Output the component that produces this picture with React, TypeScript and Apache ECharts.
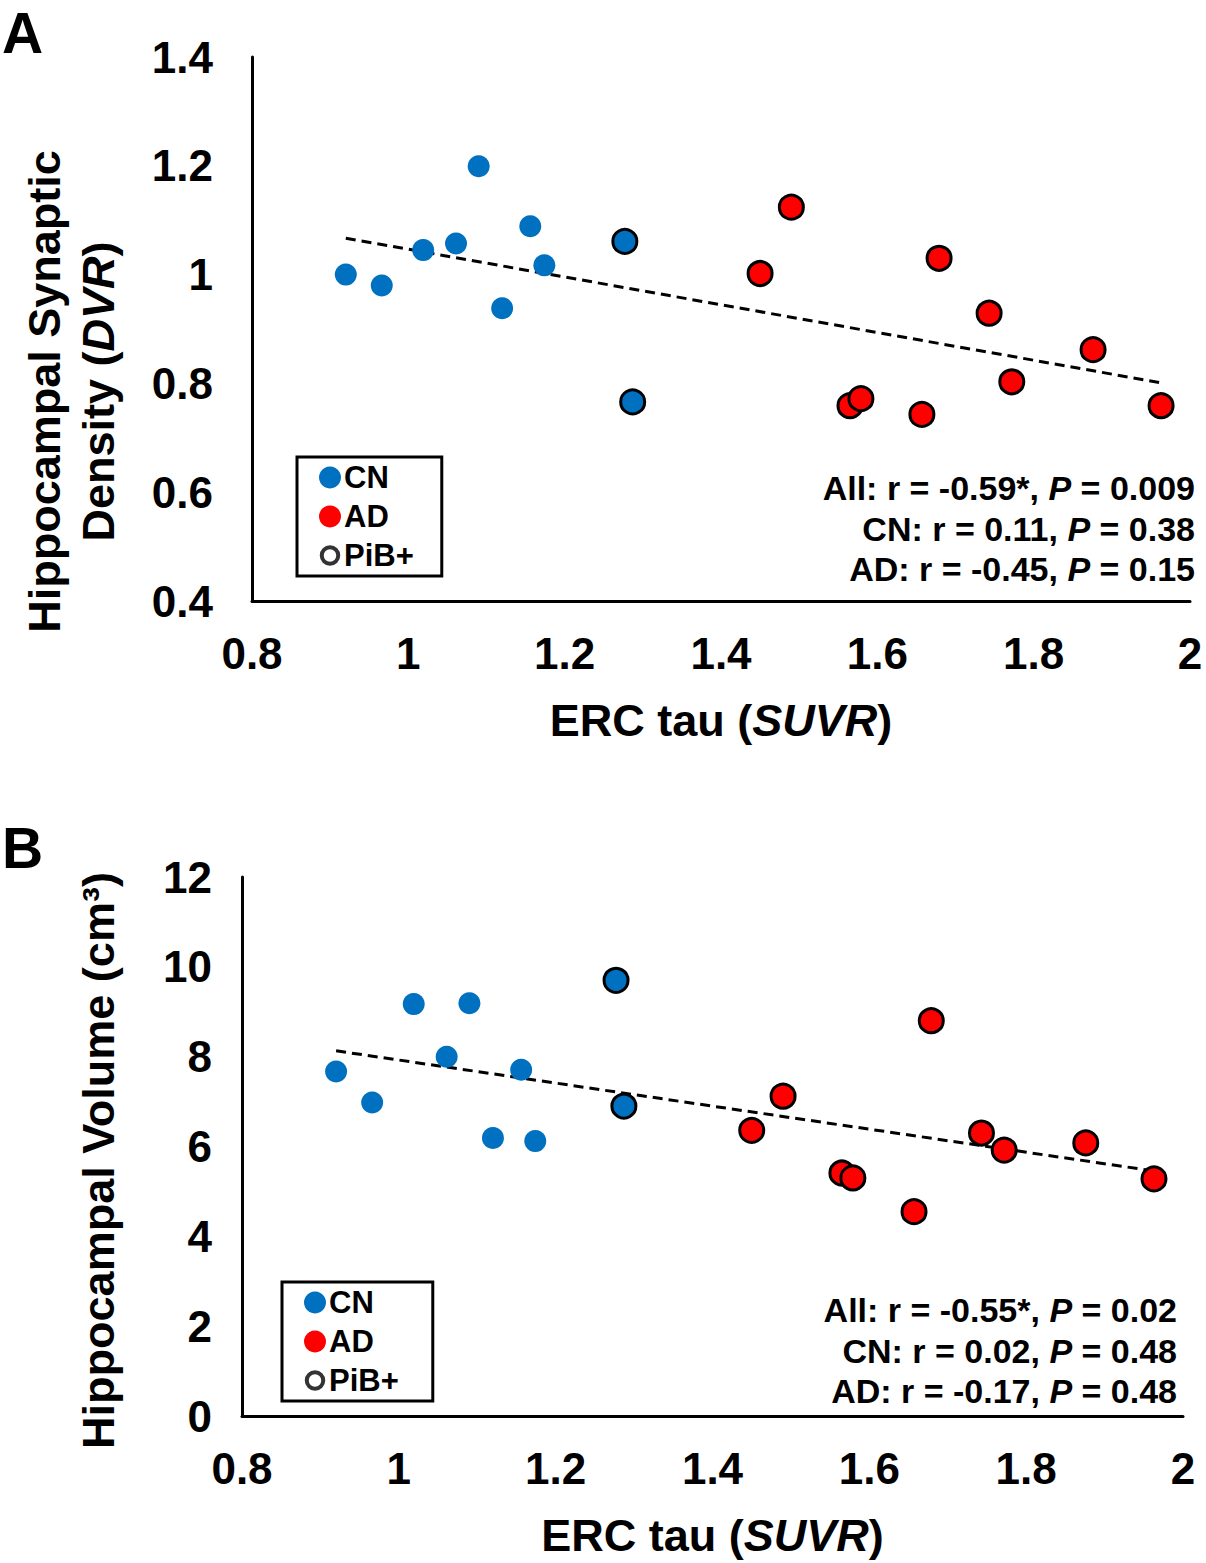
import React, { useEffect, useRef } from "react";
import * as echarts from "echarts";

// ---------- Data ----------
// ERC tau (SUVR) values
const tauCN = [0.92, 0.966, 1.019, 1.061, 1.09, 1.12, 1.156, 1.174];
const tauCNPib = [1.277, 1.287];
const tauAD = [1.45, 1.49, 1.565, 1.579, 1.657, 1.679, 1.743, 1.772, 1.876, 1.963];

// Panel A: hippocampal synaptic density (DVR)
const dvrCN = [1.0, 0.98, 1.045, 1.057, 1.199, 0.938, 1.089, 1.017];
const dvrCNPib = [1.061, 0.766];
const dvrAD = [1.002, 1.124, 0.759, 0.772, 0.743, 1.03, 0.929, 0.803, 0.862, 0.759];
const trendA = [[0.92, 1.067], [1.963, 0.801]];

// Panel B: hippocampal volume (cm3)
const volCN = [7.67, 6.98, 9.17, 8.0, 9.19, 6.19, 7.71, 6.12];
const volCNPib = [9.7, 6.9];
const volAD = [6.36, 7.12, 5.41, 5.3, 4.55, 8.8, 6.3, 5.92, 6.08, 5.28];
const trendB = [[0.92, 8.13], [1.961, 5.46]];

const statsA = [
  "All: r = -0.59*, {i|P} = 0.009",
  "CN: r = 0.11, {i|P} = 0.38",
  "AD: r = -0.45, {i|P} = 0.15",
];
const statsB = [
  "All: r = -0.55*, {i|P} = 0.02",
  "CN: r = 0.02, {i|P} = 0.48",
  "AD: r = -0.17, {i|P} = 0.48",
];
const legendNames = ["CN", "AD", "PiB+"];

const FONT = "'Liberation Sans', Arial, sans-serif";
const BLUE = "#0070C0";
const RED = "#FF0000";
// small hollow ring icon for the PiB+ legend entry (outer moves pad the bounds)
const RING_ICON = "path://M0,0M24,24M12,3A9,9 0 1 1 12,21A9,9 0 1 1 12,3Z";

const zip = (a: number[], b: number[]) => a.map((v, i) => [v, b[i]]);

export default function App() {
  const ref = useRef<HTMLDivElement>(null);
  useEffect(() => {
    if (!ref.current) return;
    const chart = echarts.init(ref.current, undefined, { renderer: "svg" });

    const tickLabel = {
      fontSize: 44,
      fontWeight: "bold",
      color: "#000",
      fontFamily: FONT,
    };
    const nameStyle = (padTop: number) => ({
      fontSize: 45,
      fontWeight: "bold",
      color: "#000",
      fontFamily: FONT,
      lineHeight: 54,
      padding: [0, padTop, 0, 0],
      rich: {
        i: { fontSize: 45, fontWeight: "bold", fontStyle: "italic", color: "#000", fontFamily: FONT, lineHeight: 54 },
        n: { fontSize: 45, fontWeight: "bold", color: "#000", fontFamily: FONT, lineHeight: 54 },
      },
    });
    const axisLine = { show: true, onZero: false, lineStyle: { color: "#000", width: 3 } };
    const fmt1 = (v: number) => String(+v.toFixed(1));

    const xAxisBase = (gridIndex: number, nameGap: number) => ({
      type: "value",
      gridIndex,
      min: 0.8,
      max: 2,
      interval: 0.2,
      axisLine,
      axisTick: { show: false },
      splitLine: { show: false },
      axisLabel: { ...tickLabel, margin: 30, formatter: fmt1 },
      name: "{n|ERC tau (}{i|SUVR}{n|)}",
      nameLocation: "middle",
      nameGap,
      nameTextStyle: nameStyle(0),
    });

    const scatterSeries = (
      name: string,
      idx: number,
      data: number[][],
      color: string,
      bordered: boolean
    ) => ({
      name,
      type: "scatter",
      xAxisIndex: idx,
      yAxisIndex: idx,
      data,
      symbol: "circle",
      symbolSize: bordered ? 24 : 22,
      itemStyle: {
        color,
        borderColor: "#000",
        borderWidth: bordered ? 3 : 0,
        opacity: 1,
      },
      z: 3,
    });

    const trendSeries = (idx: number, data: number[][]) => ({
      name: "trend",
      type: "line",
      xAxisIndex: idx,
      yAxisIndex: idx,
      data,
      symbol: "none",
      lineStyle: { color: "#000", width: 3, type: [10, 6] },
      z: 2,
      silent: true,
    });

    const legendBase = (left: number, top: number, padRight: number) => ({
      left,
      top,
      orient: "vertical",
      data: [
        { name: legendNames[0], icon: "circle", itemStyle: { borderWidth: 0 } },
        { name: legendNames[1], icon: "circle", itemStyle: { borderWidth: 0 } },
        {
          name: legendNames[2],
          icon: RING_ICON,
          itemStyle: { color: "#fff", borderColor: "#000", borderWidth: 4 },
        },
      ],
      itemWidth: 22,
      itemHeight: 22,
      itemGap: 8,
      selectedMode: false,
      backgroundColor: "#fff",
      borderColor: "#000",
      borderWidth: 3,
      padding: [5, padRight, 5, 20],
      textStyle: { fontSize: 31, fontWeight: "bold", color: "#000", fontFamily: FONT, padding: [0, 0, 0, -2] },
    });

    const statTexts = (lines: string[], xRight: number, y0: number) =>
      lines.map((t, i) => ({
        type: "text",
        x: xRight,
        y: y0 + i * 40.5,
        style: {
          text: t,
          align: "right",
          verticalAlign: "middle",
          fontSize: 34,
          fontWeight: "bold",
          fontFamily: FONT,
          fill: "#000",
          rich: {
            i: { fontSize: 34, fontWeight: "bold", fontStyle: "italic", fontFamily: FONT, fill: "#000" },
          },
        },
        z: 10,
      }));

    const option = {
      animation: false,
      backgroundColor: "#fff",
      grid: [
        { left: 252, top: 57, width: 938, height: 544 },
        { left: 242, top: 877, width: 941, height: 543 },
      ],
      xAxis: [xAxisBase(0, 92), xAxisBase(1, 92)],
      yAxis: [
        {
          type: "value",
          gridIndex: 0,
          min: 0.4,
          max: 1.4,
          interval: 0.2,
          axisLine,
          axisTick: { show: false },
          splitLine: { show: false },
          axisLabel: { ...tickLabel, margin: 39, formatter: fmt1 },
          name: "{n|Hippocampal Synaptic}\n{n|Density (}{i|DVR}{n|)}",
          nameLocation: "middle",
          nameGap: 127,
          nameTextStyle: nameStyle(125),
        },
        {
          type: "value",
          gridIndex: 1,
          min: 0,
          max: 12,
          interval: 2,
          axisLine,
          axisTick: { show: false },
          splitLine: { show: false },
          axisLabel: { ...tickLabel, margin: 30, formatter: fmt1 },
          name: "{n|Hippocampal Volume (cm³)}",
          nameLocation: "middle",
          nameGap: 117,
          nameTextStyle: nameStyle(28),
        },
      ],
      legend: [legendBase(297, 457, 28), legendBase(282, 1282, 34)],
      series: [
        trendSeries(0, trendA),
        scatterSeries("CN", 0, zip(tauCN, dvrCN), BLUE, false),
        scatterSeries("CN PiB+", 0, zip(tauCNPib, dvrCNPib), BLUE, true),
        scatterSeries("AD", 0, zip(tauAD, dvrAD), RED, true),
        trendSeries(1, trendB),
        scatterSeries("CN", 1, zip(tauCN, volCN), BLUE, false),
        scatterSeries("CN PiB+", 1, zip(tauCNPib, volCNPib), BLUE, true),
        scatterSeries("AD", 1, zip(tauAD, volAD), RED, true),
        {
          name: "PiB+",
          type: "scatter",
          xAxisIndex: 0,
          yAxisIndex: 0,
          data: [],
          symbol: "circle",
          itemStyle: { color: "#fff", borderColor: "#000", borderWidth: 4 },
        },
      ],
      graphic: [
        {
          type: "text",
          x: 2,
          y: 4,
          style: { text: "A", fontSize: 57, fontWeight: "bold", fontFamily: FONT, fill: "#000" },
        },
        {
          type: "text",
          x: 2,
          y: 819,
          style: { text: "B", fontSize: 57, fontWeight: "bold", fontFamily: FONT, fill: "#000" },
        },
        ...statTexts(statsA, 1195, 488),
        ...statTexts(statsB, 1177, 1310),
      ],
    };

    chart.setOption(option as any);
    return () => chart.dispose();
  }, []);

  return (
    <div
      ref={ref}
      style={{ position: "absolute", left: 0, top: 0, width: 1206, height: 1563, background: "#fff" }}
    />
  );
}
